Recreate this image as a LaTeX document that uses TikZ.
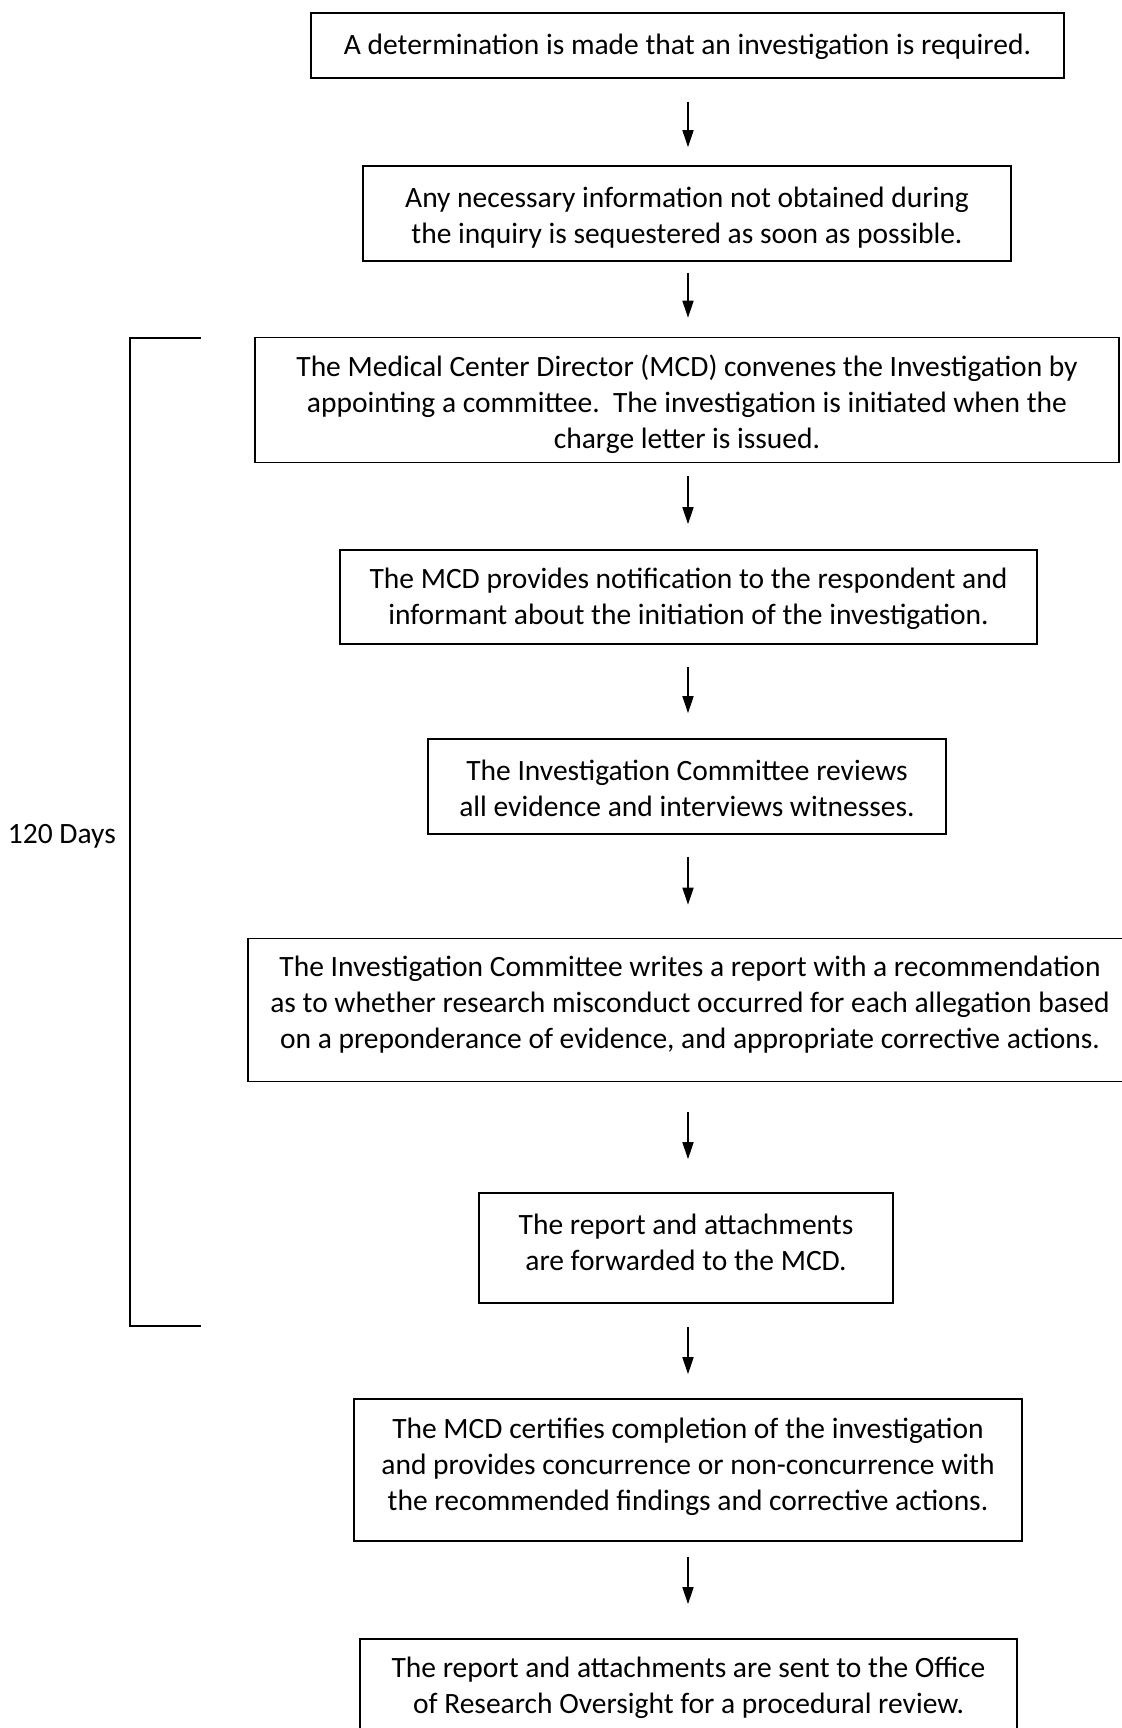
\documentclass[tikz,border=0pt]{standalone}
\usepackage{fontspec}
\setmainfont{Carlito}
\usetikzlibrary{arrows.meta}
\begin{document}
\begin{tikzpicture}[x=1pt,y=-1pt,
  box/.style={draw, line width=1.6pt, inner sep=0pt},
  txt/.style={inner sep=0pt, align=center, font=\fontsize{29.5}{36}\selectfont},
  arr/.style={line width=1.6pt, -{Triangle[length=17pt,width=11pt]}},
  lbl/.style={inner sep=0pt, font=\fontsize{29.5}{36}\selectfont}]
\useasboundingbox (0,0) rectangle (1121,1728);
\node[box, minimum width=753pt, minimum height=65pt] (b1) at (687.5,45.5) {};
\node[box, minimum width=648pt, minimum height=95pt] (b2) at (687,213.5) {};
\node[box, minimum width=864pt, minimum height=125pt] (b3) at (687,400) {};
\node[box, minimum width=697pt, minimum height=94pt] (b4) at (688.5,597) {};
\node[box, minimum width=518pt, minimum height=95pt] (b5) at (687,786.5) {};
\node[box, minimum width=884pt, minimum height=143pt] (b6) at (690,1010) {};
\node[box, minimum width=414pt, minimum height=110pt] (b7) at (686,1248) {};
\node[box, minimum width=668pt, minimum height=142pt] (b8) at (688,1470) {};
\node[box, minimum width=657pt, minimum height=94pt] (b9) at (688.5,1686) {};
\node[txt] (t1) at ([yshift=-1.5pt]b1.center)
  {A determination is made that an investigation is required.};
\node[txt] (t2) at ([yshift=-4pt]b2.center)
  {Any necessary information not obtained during\\the inquiry is sequestered as soon as possible.};
\node[txt] (t3) at ([yshift=-4pt]b3.center)
  {The Medical Center Director (MCD) convenes the Investigation by\\appointing a committee.\ \ The investigation is initiated when the\\charge letter is issued.};
\node[txt] (t4) at ([yshift=-1.5pt]b4.center)
  {The MCD provides notification to the respondent and\\informant about the initiation of the investigation.};
\node[txt] (t5) at ([yshift=-1.5pt]b5.center)
  {The Investigation Committee reviews\\all evidence and interviews witnesses.};
\node[txt] (t6) at ([yshift=5pt]b6.center)
  {The Investigation Committee writes a report with a recommendation\\as to whether research misconduct occurred for each allegation based\\on a preponderance of evidence, and appropriate corrective actions.};
\node[txt] (t7) at ([yshift=6pt]b7.center)
  {The report and attachments\\are forwarded to the MCD.};
\node[txt] (t8) at ([yshift=3pt]b8.center)
  {The MCD certifies completion of the investigation\\and provides concurrence or non-concurrence with\\the recommended findings and corrective actions.};
\node[txt] (t9) at ([yshift=-1.5pt]b9.center)
  {The report and attachments are sent to the Office\\of Research Oversight for a procedural review.};
\draw[arr, shorten <=23pt, shorten >=18pt] (b1.south -| 688,0) -- (b2.north -| 688,0);
\draw[arr, shorten <=11pt, shorten >=19pt] (b2.south -| 688,0) -- (b3.north -| 688,0);
\draw[arr, shorten <=13pt, shorten >=25pt] (b3.south -| 688,0) -- (b4.north -| 688,0);
\draw[arr, shorten <=22pt, shorten >=25pt] (b4.south -| 688,0) -- (b5.north -| 688,0);
\draw[arr, shorten <=22pt, shorten >=33pt] (b5.south -| 688,0) -- (b6.north -| 688,0);
\draw[arr, shorten <=30pt, shorten >=33pt] (b6.south -| 688,0) -- (b7.north -| 688,0);
\draw[arr, shorten <=23pt, shorten >=24pt] (b7.south -| 688,0) -- (b8.north -| 688,0);
\draw[arr, shorten <=15pt, shorten >=34pt] (b8.south -| 688,0) -- (b9.north -| 688,0);
\coordinate (bt) at (201,338);
\coordinate (bb) at (201,1326);
\draw[line width=1.6pt] (bt) -- (130,338) -- (130,1326) -- (bb);
\node[lbl, anchor=east] (days) at (116,836) {120 Days};
\end{tikzpicture}
\end{document}
